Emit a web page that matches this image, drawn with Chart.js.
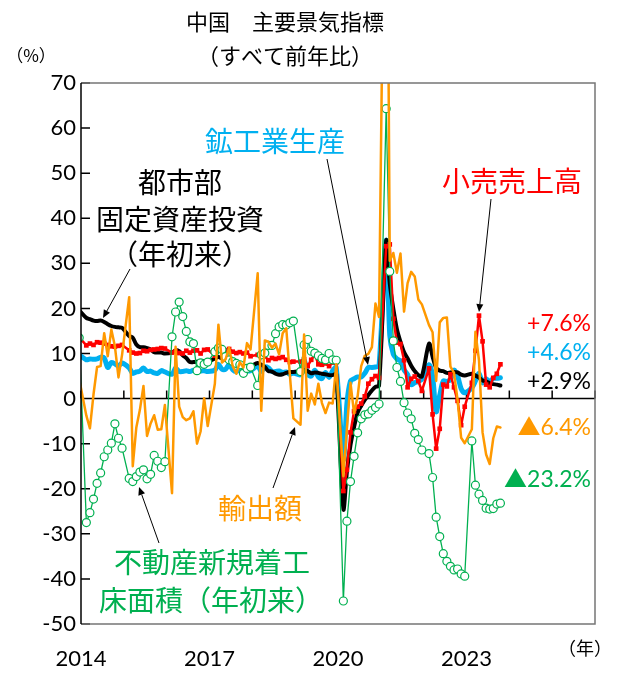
<!DOCTYPE html>
<html>
<head>
<meta charset="utf-8">
<script src="https://cdn.jsdelivr.net/npm/chart.js@4.4.0/dist/chart.umd.min.js"></script>
<style>
html, body { margin: 0; padding: 0; background: #fff; }
canvas { display: block; }
</style>
</head>
<body>
<canvas id="chart" width="618" height="675"></canvas>
<script>
// Monthly series, first value = Dec 2013, last = Oct 2023 (x index: 0 = Jan 2014)
// January is blank in every series (Jan-Feb figures are plotted in February)
const startIndex = -1;
const yearLabels = ['2014', '2017', '2020', '2023'];
const yearTicks = [2014, 2015, 2016, 2017, 2018, 2019, 2020, 2021, 2022, 2023, 2024, 2025, 2026];

// 鉱工業生産
const industrial = [9.7,
  null, 8.6, 8.8, 8.7, 8.8, 9.2, 9.0, 6.9, 8.0, 7.7, 7.2, 7.9,
  null, 6.8, 5.6, 5.9, 6.1, 6.8, 6.0, 6.1, 5.7, 5.6, 6.2, 5.9,
  null, 5.4, 6.8, 6.0, 6.0, 6.2, 6.0, 6.3, 6.1, 6.1, 6.2, 6.0,
  null, 6.3, 7.6, 6.5, 6.5, 7.6, 6.4, 6.0, 6.6, 6.2, 6.1, 6.2,
  null, 7.2, 6.0, 7.0, 6.8, 6.0, 6.0, 6.1, 5.8, 5.9, 5.4, 5.7,
  null, 5.3, 8.5, 5.4, 5.0, 6.3, 4.8, 4.4, 5.8, 4.7, 6.2, 6.9,
  null, -13.5, -1.1, 3.9, 4.4, 4.8, 4.8, 5.6, 6.9, 6.9, 7.0, 7.3,
  null, 35.1, 14.1, 9.8, 8.8, 8.3, 6.4, 5.3, 3.1, 3.5, 3.8, 4.3,
  null, 7.5, 5.0, -2.9, 0.7, 3.9, 3.8, 4.2, 6.3, 5.0, 2.2, 1.3,
  null, 2.4, 3.9, 5.6, 3.5, 4.4, 3.7, 4.5, 4.5, 4.6];

// 小売売上高
const retail = [13.6,
  null, 11.8, 12.2, 11.9, 12.5, 12.4, 12.2, 11.9, 11.6, 11.5, 11.7, 11.9,
  null, 10.7, 10.2, 10.0, 10.1, 10.6, 10.5, 10.8, 10.9, 11.0, 11.2, 11.1,
  null, 10.2, 10.5, 10.1, 10.0, 10.6, 10.2, 10.6, 10.7, 10.0, 10.8, 10.9,
  null, 9.5, 10.9, 10.7, 10.7, 11.0, 10.4, 10.1, 10.3, 10.0, 10.2, 9.4,
  null, 9.7, 10.1, 9.4, 8.5, 9.0, 8.8, 9.0, 9.2, 8.6, 8.1, 8.2,
  null, 8.2, 8.7, 7.2, 8.6, 9.8, 7.6, 7.5, 7.8, 7.2, 8.0, 8.0,
  null, -20.5, -15.8, -7.5, -2.8, -1.8, -1.1, 0.5, 3.3, 4.3, 5.0, 4.6,
  null, 33.8, 34.2, 17.7, 12.4, 12.1, 8.5, 2.5, 4.4, 4.9, 3.9, 1.7,
  null, 6.7, -3.5, -11.1, -6.7, 3.1, 2.7, 5.4, 2.5, -0.5, -5.9, -1.8,
  null, 3.5, 10.6, 18.4, 12.7, 3.1, 2.5, 4.6, 5.5, 7.6];

// 都市部固定資産投資（年初来）
const investment = [19.6,
  null, 17.9, 17.6, 17.3, 17.2, 17.3, 17.0, 16.5, 16.1, 15.9, 15.8, 15.7,
  null, 13.9, 13.5, 12.0, 11.4, 11.4, 11.2, 10.9, 10.3, 10.2, 10.2, 10.0,
  null, 10.2, 10.7, 10.5, 9.6, 9.0, 8.1, 8.1, 8.2, 8.3, 8.3, 8.1,
  null, 8.9, 9.2, 8.9, 8.6, 8.6, 8.3, 7.8, 7.5, 7.3, 7.2, 7.2,
  null, 7.9, 7.5, 7.0, 6.1, 6.0, 5.5, 5.3, 5.4, 5.7, 5.9, 5.9,
  null, 6.1, 6.3, 6.1, 5.6, 5.8, 5.7, 5.5, 5.4, 5.2, 5.2, 5.4,
  null, -24.5, -16.1, -10.3, -6.3, -3.1, -1.6, -0.3, 0.8, 1.8, 2.6, 2.9,
  null, 35.0, 25.6, 19.9, 15.4, 12.6, 10.3, 8.9, 7.3, 6.1, 5.2, 4.9,
  null, 12.2, 9.3, 6.8, 6.2, 6.1, 5.7, 5.8, 5.9, 5.8, 5.3, 5.1,
  null, 5.5, 5.1, 4.7, 4.0, 3.8, 3.4, 3.2, 3.1, 2.9];

// 輸出額
const exportsYoY = [4.3,
  null, -3.8, -6.6, 0.9, 7.0, 7.2, 14.5, 9.4, 15.3, 11.6, 4.7, 9.7,
  null, 22.5, -15.0, -6.4, -2.5, 2.8, -8.3, -5.5, -3.7, -6.9, -6.8, -1.4,
  null, -21.0, 11.5, -1.8, -4.1, -4.8, -4.4, -2.8, -10.0, -7.3, 0.1, -6.1,
  null, 3.3, 16.4, 8.0, 8.7, 11.3, 7.2, 5.5, 8.1, 6.9, 12.3, 10.9,
  null, 27.8, -2.7, 12.9, 12.6, 11.3, 12.2, 9.8, 14.5, 15.6, 5.4, -4.4,
  null, -5.8, 14.2, -2.7, 1.1, -1.3, 3.3, -1.0, -3.2, -0.9, -1.1, 7.6,
  null, -17.2, -6.6, 3.5, -3.3, 0.5, 7.2, 9.5, 9.9, 11.4, 21.1, 18.1,
  null, 154.9, 30.6, 32.3, 27.9, 32.2, 19.3, 25.6, 28.1, 27.1, 22.0, 20.9,
  null, 16.3, 14.7, 3.9, 16.9, 17.9, 18.0, 7.1, 5.7, -0.3, -8.7, -9.9,
  null, -6.8, 14.8, 8.5, -7.5, -12.4, -14.5, -8.8, -6.2, -6.4];

// 不動産新規着工床面積（年初来）
const housingStarts = [13.5,
  null, -27.5, -25.3, -22.3, -18.8, -16.5, -12.9, -11.4, -9.9, -5.6, -8.8, -11.0,
  null, -17.7, -18.4, -17.3, -16.3, -15.8, -17.8, -16.8, -12.6, -13.9, -15.3, -14.0,
  null, 13.7, 19.2, 21.4, 18.2, 14.9, 12.6, 12.2, 6.2, 7.9, 7.6, 8.1,
  null, 10.4, 11.2, 10.9, 9.3, 8.6, 8.2, 7.8, 7.5, 5.6, 6.7, 7.0,
  null, 2.9, 9.7, 10.1, 11.8, 11.8, 14.4, 15.9, 16.4, 16.3, 16.8, 17.2,
  null, 6.0, 11.9, 13.1, 10.5, 10.1, 9.5, 8.9, 8.6, 10.0, 8.6, 8.5,
  null, -44.9, -27.2, -18.4, -12.8, -7.6, -4.5, -3.6, -3.4, -2.6, -2.0, -1.2,
  null, 64.3, 28.2, 12.8, 6.9, 3.8, -0.9, -3.2, -4.5, -7.7, -9.1, -11.4,
  null, -12.2, -17.5, -26.3, -30.6, -34.4, -36.1, -37.2, -38.0, -37.8, -38.9, -39.4,
  null, -9.4, -19.2, -21.2, -22.6, -24.3, -24.5, -24.4, -23.4, -23.2];

const toPoints = arr => arr.map((v, i) => ({ x: i + startIndex, y: v }));

// Colors
const BLUE = '#00B0F0', RED = '#FF0000', ORANGE = '#FF9900', GREEN = '#00B050', BLACK = '#000000';

// Labels drawn on the chart
const notes = [
  { text: '鉱工業生産', x: 275, y: 141, color: BLUE, size: 28 },
  { text: '都市部', x: 180, y: 182, color: BLACK, size: 28 },
  { text: '固定資産投資', x: 180, y: 219, color: BLACK, size: 28 },
  { text: '（年初来）', x: 180, y: 254, color: BLACK, size: 28 },
  { text: '小売売上高', x: 512, y: 181, color: RED, size: 28 },
  { text: '輸出額', x: 260, y: 508, color: ORANGE, size: 28 },
  { text: '不動産新規着工', x: 212, y: 562, color: GREEN, size: 28 },
  { text: '床面積（年初来）', x: 211, y: 600, color: GREEN, size: 28 }
];
const lastValues = [
  { text: '+7.6%', y: 324, color: RED },
  { text: '+4.6%', y: 353, color: BLUE },
  { text: '+2.9%', y: 382, color: BLACK },
  { text: '▲6.4%', y: 428, color: ORANGE },
  { text: '▲23.2%', y: 480, color: GREEN }
];
const arrows = [
  [130, 269, 103, 318],
  [327, 159, 368, 365],
  [491, 199, 479, 312],
  [273, 488, 295, 427],
  [159, 543, 139, 487]
];

const CJK = "'Noto Sans CJK JP', sans-serif";
const NUM = "Lato, 'Noto Sans CJK JP', sans-serif";

const drawArrow = (ctx, x1, y1, x2, y2) => {
  const ang = Math.atan2(y2 - y1, x2 - x1);
  const len = 8, half = 3.5;
  ctx.beginPath();
  ctx.moveTo(x1, y1);
  ctx.lineTo(x2 - Math.cos(ang) * len, y2 - Math.sin(ang) * len);
  ctx.stroke();
  ctx.beginPath();
  ctx.moveTo(x2, y2);
  ctx.lineTo(x2 - Math.cos(ang) * len - Math.sin(ang) * half, y2 - Math.sin(ang) * len + Math.cos(ang) * half);
  ctx.lineTo(x2 - Math.cos(ang) * len + Math.sin(ang) * half, y2 - Math.sin(ang) * len - Math.cos(ang) * half);
  ctx.closePath();
  ctx.fill();
};

const decor = {
  id: 'decor',
  beforeDatasetsDraw(chart) {
    const { ctx, chartArea: a, scales: { x, y } } = chart;
    const y0 = y.getPixelForValue(0);
    ctx.save();
    ctx.strokeStyle = '#000';
    ctx.lineWidth = 1.5;
    ctx.beginPath();
    ctx.moveTo(a.left, y0);
    ctx.lineTo(a.right, y0);
    x.ticks.forEach(t => {
      const px = x.getPixelForValue(t.value);
      ctx.moveTo(px, y0);
      ctx.lineTo(px, y0 - 8);
    });
    y.ticks.forEach(t => {
      const py = y.getPixelForValue(t.value);
      ctx.moveTo(a.left, py);
      ctx.lineTo(a.left + 9, py);
    });
    ctx.stroke();
    ctx.restore();
  },
  afterDatasetsDraw(chart) {
    const { ctx, chartArea: a } = chart;
    ctx.save();
    ctx.lineWidth = 1.5;
    ctx.strokeStyle = '#767676';
    ctx.beginPath();
    ctx.moveTo(a.left, a.top);
    ctx.lineTo(a.right, a.top);
    ctx.lineTo(a.right, a.bottom);
    ctx.lineTo(a.left, a.bottom);
    ctx.stroke();
    ctx.strokeStyle = '#000';
    ctx.beginPath();
    ctx.moveTo(a.left, a.top);
    ctx.lineTo(a.left, a.bottom);
    ctx.stroke();
    ctx.restore();
  },
  afterDraw(chart) {
    const { ctx } = chart;
    ctx.save();
    ctx.textAlign = 'center';
    ctx.textBaseline = 'middle';
    ctx.fillStyle = '#000';
    ctx.font = '22px ' + CJK;
    ctx.fillText('中国　主要景気指標', 285, 22);
    ctx.fillText('（すべて前年比）', 285, 56);
    ctx.font = '17px ' + CJK;
    ctx.fillText('（%）', 31, 56);
    ctx.font = '18px ' + CJK;
    ctx.fillText('（年）', 585, 648);

    notes.forEach(n => {
      ctx.font = n.size + 'px ' + CJK;
      ctx.fillStyle = n.color;
      ctx.fillText(n.text, n.x, n.y);
    });

    ctx.textAlign = 'right';
    ctx.font = '23px ' + NUM;
    lastValues.forEach(v => {
      ctx.fillStyle = v.color;
      ctx.fillText(v.text, 591, v.y);
    });

    ctx.strokeStyle = '#000';
    ctx.fillStyle = '#000';
    ctx.lineWidth = 1;
    arrows.forEach(a => drawArrow(ctx, a[0], a[1], a[2], a[3]));
    ctx.restore();
  }
};

new Chart(document.getElementById('chart').getContext('2d'), {
  type: 'line',
  data: {
    datasets: [
      {
        label: '輸出額', data: toPoints(exportsYoY), borderColor: ORANGE, borderWidth: 2.5,
        pointRadius: 0, spanGaps: true, tension: 0, order: 1, clip: 0
      },
      {
        label: '不動産新規着工床面積（年初来）', data: toPoints(housingStarts), borderColor: GREEN, borderWidth: 1.3,
        pointRadius: 4, pointBackgroundColor: '#fff', pointBorderColor: GREEN, pointBorderWidth: 1.2,
        spanGaps: true, tension: 0, order: 2, clip: 0
      },
      {
        label: '小売売上高', data: toPoints(retail), borderColor: RED, borderWidth: 2.5,
        pointStyle: 'rect', pointRadius: 3.3, pointBackgroundColor: RED, pointBorderWidth: 0,
        spanGaps: true, tension: 0, order: 3, clip: 0
      },
      {
        label: '都市部固定資産投資（年初来）', data: toPoints(investment), borderColor: BLACK, borderWidth: 4,
        pointRadius: 0, spanGaps: true, tension: 0.3, order: 4, clip: 0
      },
      {
        label: '鉱工業生産', data: toPoints(industrial), borderColor: BLUE, borderWidth: 5,
        pointRadius: 0, spanGaps: true, tension: 0.3, order: 5, clip: 0
      }
    ]
  },
  options: {
    responsive: false,
    animation: false,
    devicePixelRatio: 1,
    layout: { padding: { left: 0, top: 83, right: 23, bottom: 0 } },
    plugins: { legend: { display: false }, tooltip: { enabled: false } },
    elements: { line: { borderJoinStyle: 'round', borderCapStyle: 'round' } },
    scales: {
      x: {
        type: 'linear', min: -0.5, max: 143.5,
        grid: { display: false, drawTicks: false },
        border: { display: false },
        afterBuildTicks: s => { s.ticks = yearTicks.map(yr => ({ value: (yr - 2014) * 12 - 0.5 })); },
        afterFit: s => { s.height = 51; },
        ticks: {
          autoSkip: false, maxRotation: 0, padding: 22, color: '#000',
          font: { family: NUM, size: 22 },
          callback: v => {
            const yr = String(Math.round((v + 0.5) / 12) + 2014);
            return yearLabels.includes(yr) ? yr : '';
          }
        }
      },
      y: {
        min: -50, max: 70,
        grid: { display: false, drawTicks: false },
        border: { display: false },
        afterFit: s => { s.width = 81; },
        ticks: { stepSize: 10, padding: 5, color: '#000', font: { family: NUM, size: 22 } }
      }
    }
  },
  plugins: [decor]
});
</script>
</body>
</html>
